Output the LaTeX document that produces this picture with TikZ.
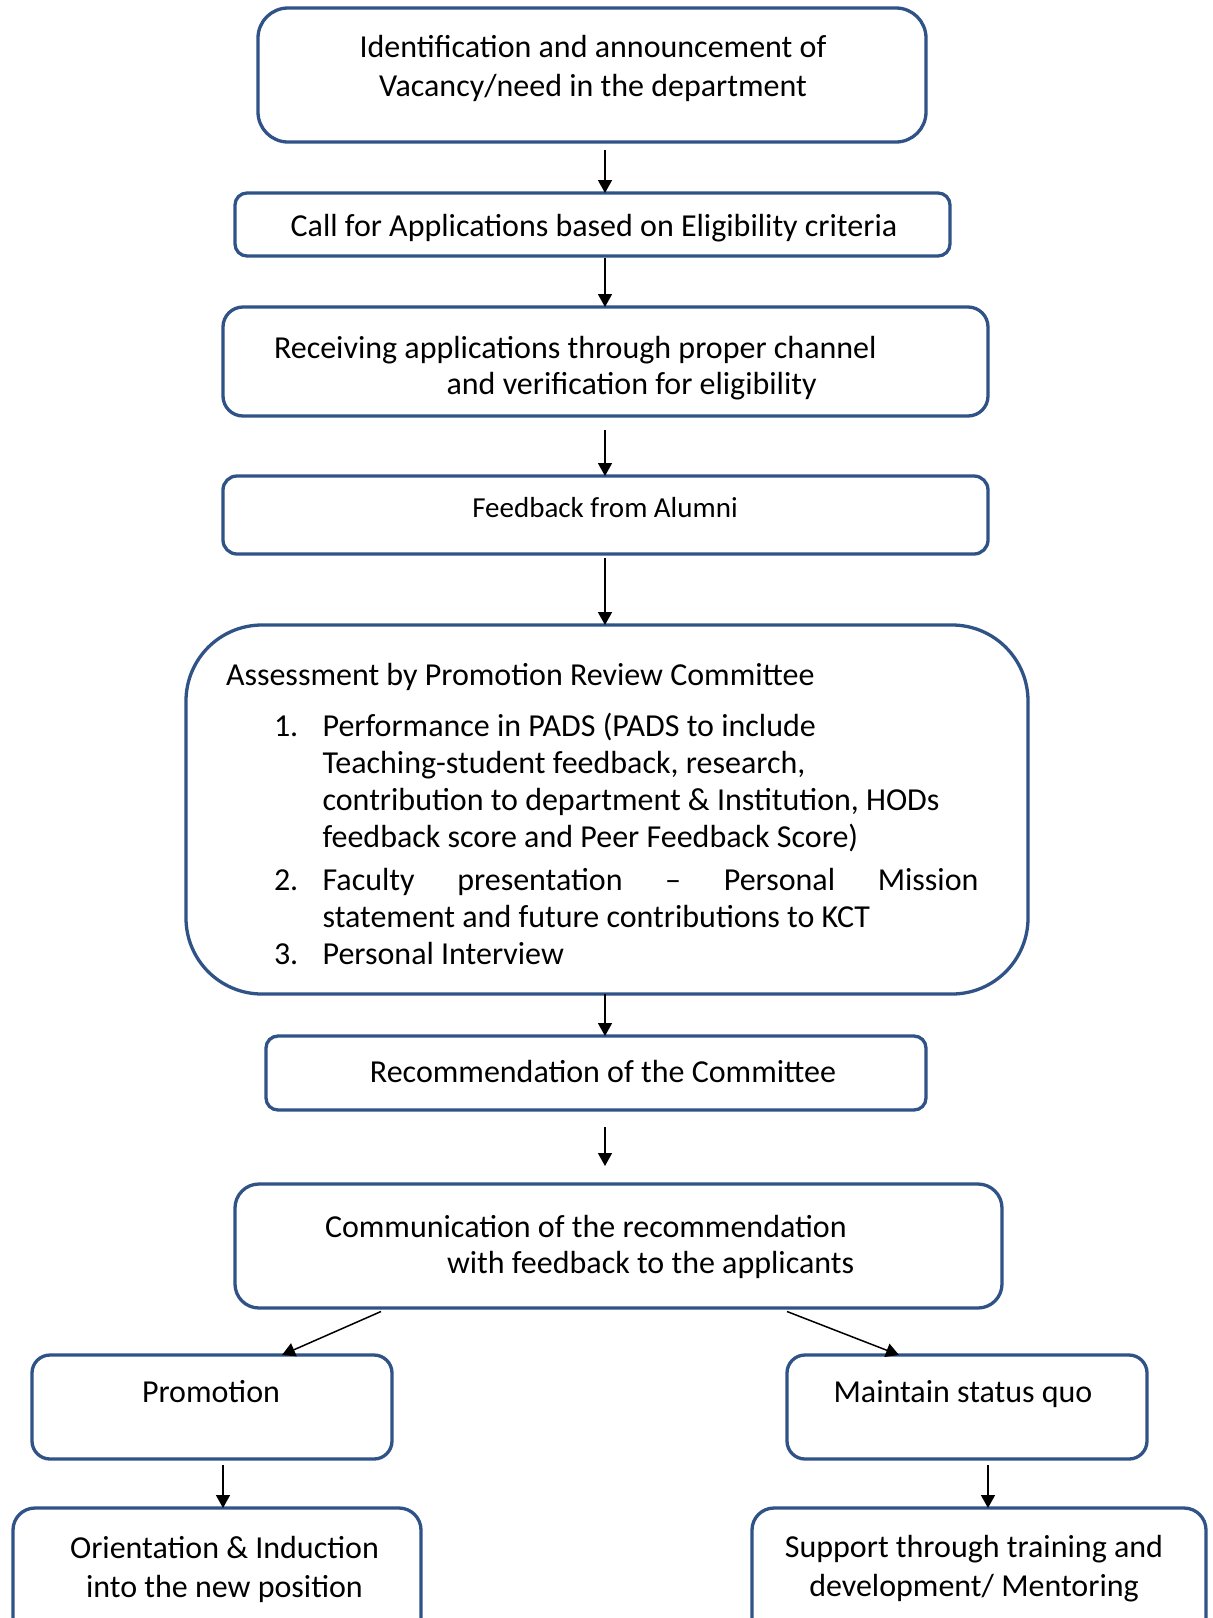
\documentclass[tikz,border=0pt]{standalone}
\usepackage{fontspec}
\setmainfont{Carlito}
\usetikzlibrary{arrows.meta}
\definecolor{boxblue}{RGB}{47,82,135}
\tikzset{
  box/.style={draw=boxblue, line width=1.65pt, fill=white, inner sep=0pt, outer sep=0pt},
  txt/.style={inner sep=0pt, outer sep=0pt, font=\fontsize{16pt}{18.5pt}\selectfont},
  arr/.style={draw=black, line width=0.75pt, -{Triangle[length=6.5pt,width=7pt]}}
}
\begin{document}
\begin{tikzpicture}[x=0.5pt,y=-0.5pt]
\useasboundingbox[fill=white] (0,0) rectangle (1213,1618);

% axes for the vertical connectors
\coordinate (axc) at (605,0);
\coordinate (axl) at (223,0);
\coordinate (axr) at (988,0);

% boxes
\node[box, minimum width=334pt, minimum height=67pt, rounded corners=15pt] (b1) at (592,75) {};
\node[box, minimum width=357.5pt, minimum height=31.5pt, rounded corners=6pt] (b2) at (592.5,224.5) {};
\node[box, minimum width=382.5pt, minimum height=54.5pt, rounded corners=10pt] (b3) at (605.5,361.5) {};
\node[box, minimum width=382.5pt, minimum height=39pt, rounded corners=7pt] (b4) at (605.5,515) {};
\node[box, minimum width=421pt, minimum height=184.5pt, rounded corners=38pt] (b5) at (607,809.5) {};
\node[box, minimum width=330pt, minimum height=37pt, rounded corners=6pt] (b6) at (596,1073) {};
\node[box, minimum width=383.5pt, minimum height=62pt, rounded corners=12pt] (b7) at (618.5,1246) {};
\node[box, minimum width=180pt, minimum height=52pt, rounded corners=9pt] (b8) at (212,1407) {};
\node[box, minimum width=180pt, minimum height=52pt, rounded corners=9pt] (b9) at (967,1407) {};
\node[box, minimum width=204pt, minimum height=66pt, rounded corners=11pt] (b10) at (217,1574) {};
\node[box, minimum width=227pt, minimum height=66pt, rounded corners=11pt] (b11) at (979,1574) {};

% texts
\node[txt, align=center, font=\fontsize{16pt}{19.5pt}\selectfont] (t1) at (593,68.5)
  {Identification and announcement of\\Vacancy/need in the department};
\node[txt] (t2) at (594,228) {Call for Applications based on Eligibility criteria};
\node[txt, align=left, anchor=west, font=\fontsize{16pt}{18pt}\selectfont] (t3) at (274,368)
  {Receiving applications through proper channel\\\hspace*{86.3pt}and verification for eligibility};
\node[txt, font=\fontsize{14.5pt}{17pt}\selectfont] (t4) at (605,508) {Feedback from Alumni};
\node[txt, anchor=west] (t5) at (226,677) {Assessment by Promotion Review Committee};
\node[txt, align=left, anchor=west] (t5list) at (274,839)
  {\makebox[24.3pt][l]{1.}Performance in PADS (PADS to include\\
   \hspace*{24.3pt}Teaching-student feedback, research,\\
   \hspace*{24.3pt}contribution to department \& Institution, HODs\\
   \hspace*{24.3pt}feedback score and Peer Feedback Score)\\[3pt]
   \makebox[24.3pt][l]{2.}\makebox[328pt][s]{Faculty presentation – Personal Mission}\\
   \hspace*{24.3pt}statement and future contributions to KCT\\
   \makebox[24.3pt][l]{3.}Personal Interview};
\node[txt] (t6) at (603,1071) {Recommendation of the Committee};
\node[txt, align=left, anchor=west, font=\fontsize{16pt}{18pt}\selectfont] (t7) at (325,1247)
  {Communication of the recommendation\\\hspace*{61pt}with feedback to the applicants};
\node[txt] (t8) at (211,1392) {Promotion};
\node[txt] (t9) at (963,1394) {Maintain status quo};
\node[txt, align=center, font=\fontsize{16pt}{19.5pt}\selectfont] (t10) at (224.5,1569)
  {Orientation \& Induction\\into the new position};
\node[txt, align=center, font=\fontsize{16pt}{19.5pt}\selectfont] (t11) at (974,1569)
  {Support through training and\\development/ Mentoring};

% connectors
\draw[arr] ([yshift=-4pt]b1.south -| axc) -- (b2.north -| axc);
\draw[arr] ([yshift=-1pt]b2.south -| axc) -- (b3.north -| axc);
\draw[arr] ([yshift=-7pt]b3.south -| axc) -- (b4.north -| axc);
\draw[arr] ([yshift=-2pt]b4.south -| axc) -- (b5.north -| axc);
\draw[arr] (b5.south -| axc) -- (b6.north -| axc);
\draw[arr] ([yshift=-8.5pt]b6.south -| axc) -- ([yshift=9pt]b7.north -| axc);
\draw[arr] ([xshift=-118.75pt,yshift=-1.75pt]b7.south) -- ([xshift=35pt]b8.north);
\draw[arr] ([xshift=84.25pt,yshift=-1.75pt]b7.south) -- ([xshift=-34pt]b9.north);
\draw[arr] ([yshift=-3pt]b8.south -| axl) -- (b10.north -| axl);
\draw[arr] ([yshift=-3pt]b9.south -| axr) -- (b11.north -| axr);
\end{tikzpicture}
\end{document}
